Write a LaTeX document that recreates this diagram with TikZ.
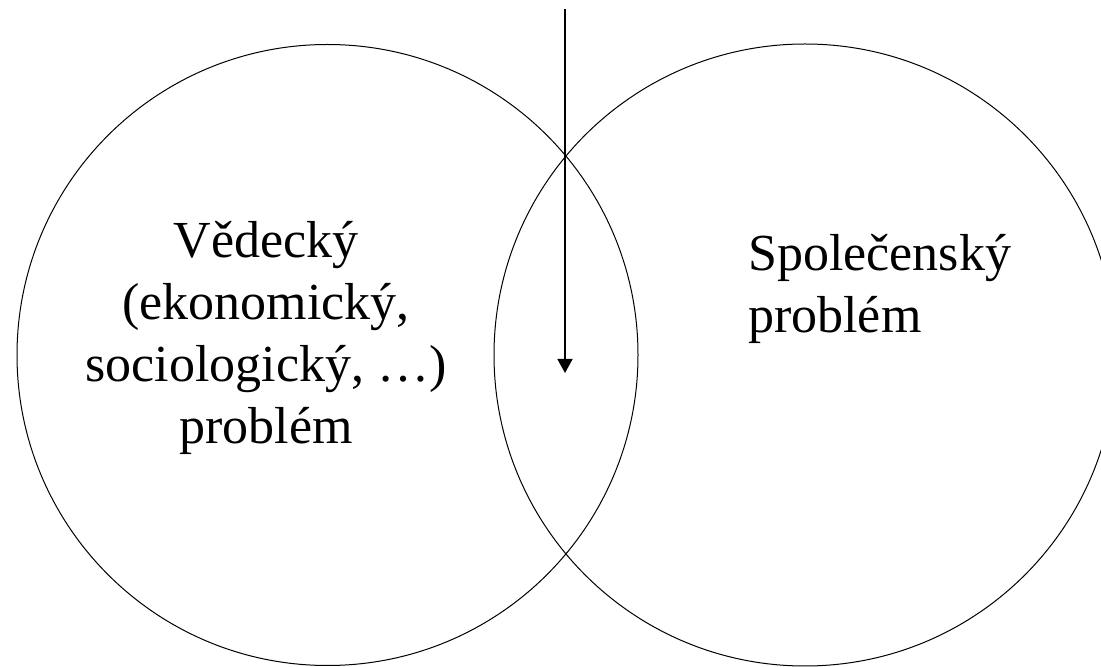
\documentclass[tikz,border=0pt]{standalone}
\usepackage{fontspec}
\setmainfont{Liberation Serif}
\usetikzlibrary{arrows.meta}
\begin{document}
\begin{tikzpicture}[x=1pt,y=1pt,
  ring/.style={circle,draw,line width=1pt,inner sep=0pt},
  lbl/.style={font=\fontsize{52}{62}\selectfont,inner sep=0pt},
  pointer/.style={line width=1.7pt,-{Triangle[length=14pt,width=15pt]}}]
\useasboundingbox (0,0) rectangle (1101,667);
\node[ring,minimum size=621pt] (L) at (327.5,312) {};
\node[ring,minimum size=622pt] (R) at (805,312) {};
\node[lbl,align=center] (lt) at (266,329) {Vědecký\\(ekonomický,\\sociologický, …)\\problém};
\node[lbl,align=left,anchor=west] (rt) at (748,378) {Společenský\\problém};
\coordinate (src) at (565,658);
\coordinate (dst) at (565,294);
\draw[pointer] (src) -- (dst);
\end{tikzpicture}
\end{document}
